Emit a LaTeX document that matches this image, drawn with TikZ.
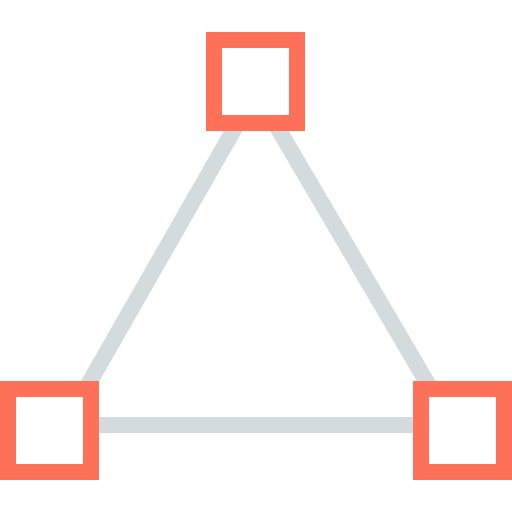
\documentclass[tikz,border=0pt]{standalone}
\definecolor{vertexred}{RGB}{255,112,88}
\definecolor{edgegray}{RGB}{212,219,222}
\tikzset{
    vertex/.style = {
        draw = vertexred,
        fill = white,
        line width = 16pt,
        minimum size = 83pt,
        inner sep = 0pt,
        rectangle,
        },
    link/.style = {
        draw = edgegray,
        line width = 16pt,
        line join = miter,
        },
}
\begin{document}
\begin{tikzpicture}[x=1pt, y=-1pt]
            \useasboundingbox (0,0) rectangle (512,512);
            % corners of the triangle
            \coordinate (a) at (256,91);
            \coordinate (b) at (65,425);
            \coordinate (c) at (452,425);

            \path[link] (a) -- (b) -- (c) -- cycle;

            \node[vertex] (top) at (255.5,81) {};
            \node[vertex] (left) at (49.5,430) {};
            \node[vertex] (right) at (462.5,430) {};
        \end{tikzpicture}
\end{document}
